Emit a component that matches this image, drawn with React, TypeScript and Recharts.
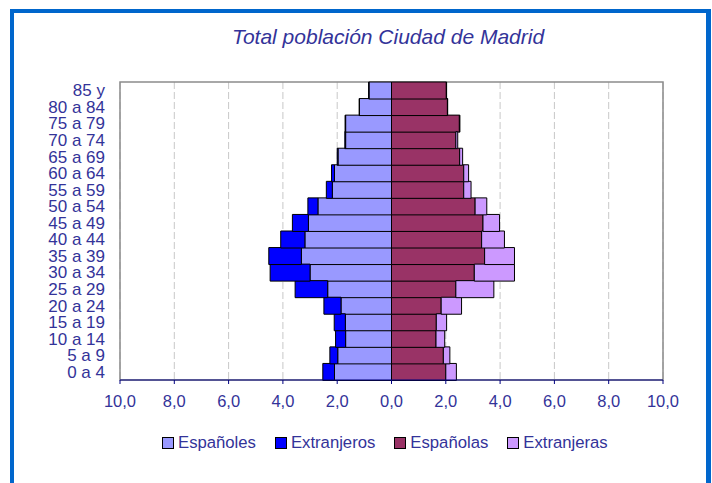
import React from 'react';
import {
  BarChart,
  Bar,
  XAxis,
  YAxis,
  CartesianGrid,
  Legend,
  ReferenceArea,
} from 'recharts';

// age groups, bottom to top
const ageGroups = [
  '0 a 4', '5 a 9', '10 a 14', '15 a 19', '20 a 24', '25 a 29',
  '30 a 34', '35 a 39', '40 a 44', '45 a 49', '50 a 54', '55 a 59',
  '60 a 64', '65 a 69', '70 a 74', '75 a 79', '80 a 84', '85 y',
];

// % of total population
const espanoles = [2.10, 1.98, 1.69, 1.70, 1.86, 2.35, 3.00, 3.32, 3.19, 3.06, 2.71, 2.18, 2.10, 1.97, 1.69, 1.69, 1.18, 0.83];
const extranjeros = [0.43, 0.29, 0.37, 0.41, 0.63, 1.20, 1.47, 1.20, 0.89, 0.59, 0.37, 0.22, 0.11, 0.03, 0.03, 0.02, 0.01, 0.01];
const espanolas = [2.00, 1.91, 1.64, 1.65, 1.83, 2.37, 3.05, 3.43, 3.32, 3.37, 3.08, 2.66, 2.66, 2.51, 2.37, 2.50, 2.06, 2.02];
const extranjeras = [0.39, 0.24, 0.32, 0.38, 0.75, 1.40, 1.48, 1.10, 0.84, 0.61, 0.43, 0.27, 0.18, 0.11, 0.07, 0.02, 0.01, 0.01];

const xTicks = [-10, -8, -6, -4, -2, 0, 2, 4, 6, 8, 10];

const series = [
  { key: 'espanoles', name: 'Españoles', color: '#9999ff' },
  { key: 'extranjeros', name: 'Extranjeros', color: '#0000ff' },
  { key: 'espanolas', name: 'Españolas', color: '#993366' },
  { key: 'extranjeras', name: 'Extranjeras', color: '#cc99ff' },
];

// males go to the left
const data = ageGroups.map((age, i) => ({
  age,
  espanoles: -espanoles[i],
  extranjeros: -extranjeros[i],
  espanolas: espanolas[i],
  extranjeras: extranjeras[i],
}));

const TEXT = '#333399';
const FONT = '"Liberation Sans", Arial, sans-serif';

const fmt = (v: number) => Math.abs(v).toFixed(1).replace('.', ',');

const LegendContent = () => (
  <div style={{ display: 'flex', alignItems: 'center', height: 20, fontFamily: FONT, fontSize: 16.7, color: TEXT }}>
    {series.map((s) => (
      <div key={s.key} style={{ display: 'flex', alignItems: 'center', marginRight: 19 }}>
        <span
          style={{
            display: 'inline-block',
            width: 10,
            height: 10,
            background: s.color,
            border: '1px solid #000',
            marginRight: 4,
          }}
        />
        <span>{s.name}</span>
      </div>
    ))}
  </div>
);

export default function App() {
  return (
    <div style={{ position: 'absolute', left: 0, top: 0, width: 712, height: 483, overflow: 'hidden', background: '#fff' }}>
      <div
        style={{
          position: 'absolute',
          left: 10,
          top: 9,
          width: 692,
          height: 520,
          borderLeft: '4px solid #0066cc',
          borderTop: '4px solid #0066cc',
          borderRight: '5px solid #0066cc',
        }}
      />
      <div
        style={{
          position: 'absolute',
          left: 232,
          top: 25,
          fontFamily: FONT,
          fontSize: 21,
          fontStyle: 'italic',
          color: TEXT,
          whiteSpace: 'nowrap',
        }}
      >
        Total población Ciudad de Madrid
      </div>
      <div style={{ position: 'absolute', left: 0, top: 0 }}>
        <BarChart
          width={712}
          height={483}
          data={data}
          layout="vertical"
          stackOffset="sign"
          barCategoryGap={0}
          margin={{ top: 82, right: 49, bottom: 43, left: 0 }}
        >
          <CartesianGrid horizontal={false} stroke="#c8c8c8" strokeDasharray="7 3" />
          <XAxis
            type="number"
            domain={[-10, 10]}
            ticks={xTicks}
            tickFormatter={fmt}
            height={40}
            stroke="#000080"
            tickSize={4}
            tickMargin={11}
            tick={{ fill: TEXT, fontSize: 16.5, fontFamily: FONT }}
          />
          <YAxis
            type="category"
            dataKey="age"
            reversed
            width={120}
            axisLine={false}
            tickLine={false}
            tickSize={0}
            tickMargin={15}
            interval={0}
            tick={{ fill: TEXT, fontSize: 17, fontFamily: FONT }}
          />
          {series.map((s) => (
            <Bar
              key={s.key}
              dataKey={s.key}
              name={s.name}
              stackId="pop"
              fill={s.color}
              stroke="#000"
              strokeWidth={1}
              isAnimationActive={false}
            />
          ))}
          <ReferenceArea x1={-10} x2={10} fill="none" stroke="#8c8c8c" strokeWidth={1.5} />
          <Legend
            verticalAlign="bottom"
            content={<LegendContent />}
            wrapperStyle={{ left: 162, top: 433, width: 480 }}
          />
        </BarChart>
      </div>
    </div>
  );
}
